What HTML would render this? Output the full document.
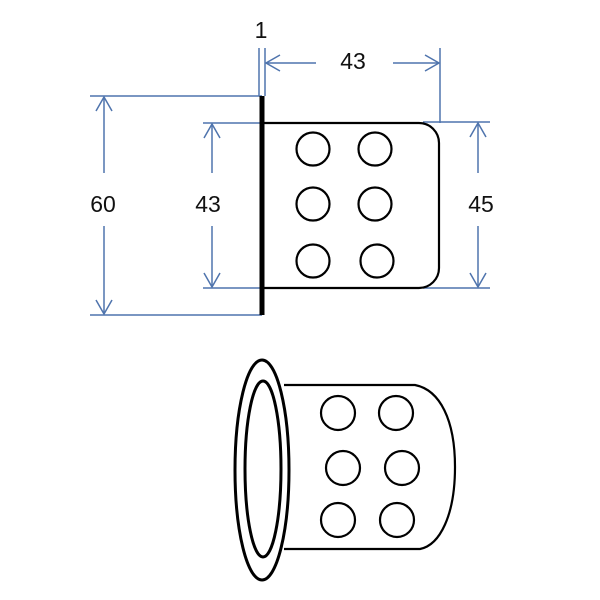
<!DOCTYPE html>
<html><head><style>
html,body{margin:0;padding:0;background:#fff;width:600px;height:600px;overflow:hidden}
svg text{font-family:"Liberation Sans",sans-serif;font-size:23px;fill:#111}
</style></head><body>
<svg width="600" height="600" viewBox="0 0 600 600" xmlns="http://www.w3.org/2000/svg">
<g stroke="#4f74ad" stroke-width="1.5" fill="none">
<line x1="90" y1="96" x2="262" y2="96"/>
<line x1="90" y1="315" x2="262" y2="315"/>
<line x1="104" y1="97" x2="104" y2="173"/>
<line x1="104" y1="226" x2="104" y2="314"/>
<polyline points="96,111 104,97 112,111"/>
<polyline points="96,300 104,314 112,300"/>
<line x1="203" y1="123" x2="262" y2="123"/>
<line x1="203" y1="288" x2="262" y2="288"/>
<line x1="212" y1="124" x2="212" y2="173"/>
<line x1="212" y1="226" x2="212" y2="287"/>
<polyline points="204,138 212,124 220,138"/>
<polyline points="204,273 212,287 220,273"/>
<line x1="423" y1="122" x2="490" y2="122"/>
<line x1="423" y1="288" x2="490" y2="288"/>
<line x1="478" y1="123" x2="478" y2="173"/>
<line x1="478" y1="226" x2="478" y2="287"/>
<polyline points="470,137 478,123 486,137"/>
<polyline points="470,273 478,287 486,273"/>
<line x1="259" y1="48" x2="259" y2="96"/>
<line x1="265" y1="48" x2="265" y2="96"/>
<line x1="440" y1="48" x2="440" y2="123"/>
<line x1="266" y1="63" x2="316" y2="63"/>
<line x1="393" y1="63" x2="439" y2="63"/>
<polyline points="280,55 266,63 280,71"/>
<polyline points="425,55 439,63 425,71"/>
</g>
<text x="261" y="38" text-anchor="middle">1</text>
<text x="353" y="69" text-anchor="middle">43</text>
<text x="103" y="212" text-anchor="middle">60</text>
<text x="208" y="212" text-anchor="middle">43</text>
<text x="481" y="212" text-anchor="middle">45</text>
<g stroke="#000" fill="none" stroke-width="2.2">
<rect x="259.5" y="96" width="5" height="219" fill="#000" stroke="none"/>
<path d="M264 123 H419 A20 20 0 0 1 439 143 V268 A20 20 0 0 1 419 288 H264"/>
<circle cx="313" cy="149" r="16.5"/>
<circle cx="375" cy="149" r="16.5"/>
<circle cx="313" cy="204" r="16.5"/>
<circle cx="375" cy="204" r="16.5"/>
<circle cx="313" cy="261" r="16.5"/>
<circle cx="377" cy="261" r="16.5"/>
<path d="M284 385 H415 C440 390 455 420 455 467 C455 515 440 545 420 549 H284"/>
<ellipse cx="262" cy="470" rx="27" ry="110" stroke-width="3"/>
<ellipse cx="263" cy="469" rx="18" ry="88" stroke-width="3"/>
<circle cx="338" cy="413" r="17"/>
<circle cx="396" cy="413" r="17"/>
<circle cx="343" cy="468" r="17"/>
<circle cx="402" cy="468" r="17"/>
<circle cx="338" cy="520" r="17"/>
<circle cx="397" cy="520" r="17"/>
</g>
</svg>
</body></html>
